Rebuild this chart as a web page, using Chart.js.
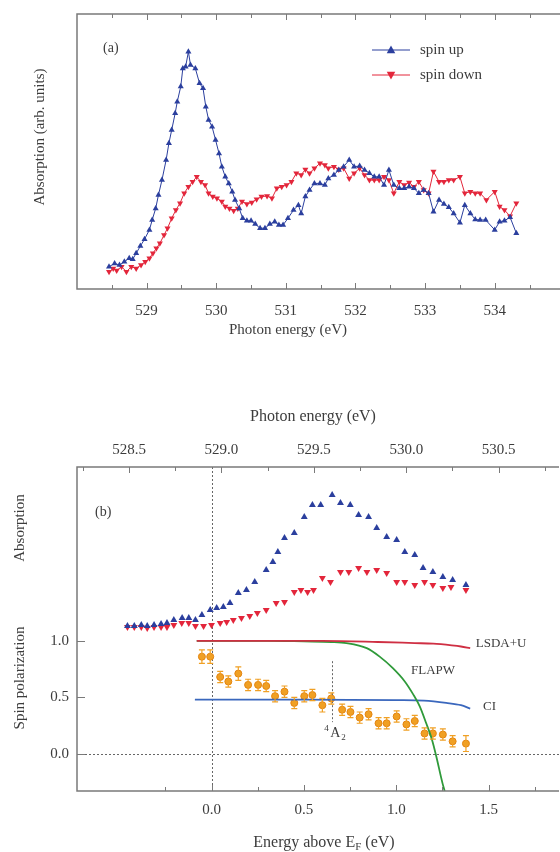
<!DOCTYPE html>
<html>
<head>
<meta charset="utf-8">
<script src="https://cdn.jsdelivr.net/npm/chart.js@4.4.0/dist/chart.umd.min.js"></script>
<style>
  html, body { margin: 0; padding: 0; background: #fff; overflow: hidden; }
  #wrap { position: relative; width: 560px; height: 852px; }
  canvas { position: absolute; left: 0; }
  #ca { top: 0; }
  #cb { top: 370px; }
</style>
</head>
<body>
<div id="wrap">
  <canvas id="ca" width="560" height="370"></canvas>
  <canvas id="cb" width="560" height="482"></canvas>
</div>
<script>
// ---- panel (a): absorption vs photon energy (arb. units) ----
const upE = [528.46,528.54,528.61,528.68,528.75,528.80,528.85,528.91,528.97,529.04,
  529.08,529.13,529.17,529.22,529.28,529.32,529.36,529.41,529.44,529.49,529.52,529.56,529.60,
  529.63,529.70,529.76,529.81,529.85,529.89,529.94,529.99,
  530.04,530.08,530.13,530.18,530.23,530.27,530.33,530.38,530.44,530.50,
  530.56,530.63,530.70,530.77,530.84,530.90,530.96,
  531.03,531.11,531.18,531.22,531.28,531.34,531.41,531.49,531.56,531.61,531.69,531.76,531.83,531.91,531.98,
  532.06,532.13,532.20,532.27,532.34,532.41,532.48,532.55,532.63,532.70,532.77,532.84,532.91,532.98,
  533.05,533.12,533.20,533.27,533.34,533.41,533.50,533.57,533.65,533.72,533.79,533.87,
  534.00,534.07,534.14,534.22,534.31];
const upAbs = [0.81,0.93,0.87,0.99,1.12,1.08,1.30,1.56,1.81,2.15,
  2.51,2.93,3.42,3.96,4.69,5.30,5.78,6.39,6.81,7.36,8.02,8.08,8.63,
  8.15,8.02,7.48,7.30,6.63,6.15,5.90,5.42,
  4.93,4.45,4.08,3.84,3.54,3.24,2.93,2.57,2.48,2.48,
  2.36,2.21,2.21,2.36,2.45,2.33,2.33,
  2.57,2.87,3.05,2.75,3.36,3.60,3.84,3.84,3.78,4.02,4.15,4.33,4.45,4.69,4.45,
  4.47,4.33,4.21,4.08,4.08,3.78,4.33,3.78,3.66,3.66,3.72,3.66,3.48,3.60,
  3.48,2.81,3.24,3.09,2.97,2.75,2.41,3.05,2.75,2.53,2.51,2.51,
  2.15,2.45,2.48,2.61,2.03];

const downE = [528.46,528.52,528.57,528.64,528.71,528.78,528.85,528.92,528.98,529.04,
  529.09,529.14,529.19,529.25,529.30,529.36,529.42,529.48,529.54,529.60,
  529.66,529.72,529.78,529.84,529.89,529.95,
  530.01,530.08,530.13,530.19,530.25,530.31,530.37,530.44,530.51,530.58,530.65,530.73,530.80,530.87,530.94,
  531.01,531.08,531.15,531.22,531.28,531.34,531.41,531.49,531.56,531.61,531.69,531.76,531.83,531.91,531.98,
  532.06,532.13,532.20,532.27,532.34,532.41,532.48,532.55,532.63,532.70,532.77,532.84,532.91,532.98,
  533.05,533.12,533.20,533.27,533.34,533.41,533.50,533.57,533.65,533.72,533.79,533.88,
  534.00,534.07,534.14,534.22,534.31];
const downAbs = [0.63,0.75,0.67,0.81,0.63,0.81,0.75,0.87,0.99,1.12,
  1.30,1.48,1.66,1.96,2.21,2.57,2.87,3.12,3.48,3.72,
  3.90,4.08,3.90,3.78,3.48,3.36,
  3.30,3.18,3.00,2.93,2.85,2.93,3.18,3.09,3.15,3.26,3.36,3.38,3.30,3.66,3.72,
  3.78,3.90,4.21,4.15,4.35,4.21,4.39,4.57,4.51,4.39,4.45,4.35,4.39,4.02,4.21,
  4.39,4.15,3.96,3.96,3.96,4.08,3.96,3.48,3.90,3.78,3.87,3.72,3.90,3.60,
  3.48,4.27,3.90,3.90,3.96,3.96,4.08,3.48,3.54,3.48,3.48,3.24,
  3.54,3.00,2.87,2.65,3.12];

// ---- panel (b): energy above E_F ----
const bUpE = [-0.455,-0.418,-0.380,-0.348,-0.311,-0.273,-0.241,-0.204,-0.159,-0.123,-0.087,-0.052,-0.007,
  0.028,0.064,0.100,0.145,0.189,0.234,0.296,0.332,0.359,0.395,
  0.448,0.502,0.546,0.591,0.653,0.698,0.751,0.796,0.850,0.894,0.948,1.002,1.046,1.100,1.145,1.198,1.252,1.305,1.377];
const bUpAbs = [16.5,16.5,16.6,16.5,16.6,16.7,16.8,17.1,17.3,17.3,17.1,17.6,18.1,
  18.3,18.4,18.8,19.8,20.1,20.9,22.1,22.9,23.9,25.3,
  25.8,27.4,28.6,28.6,29.6,28.8,28.6,27.6,27.4,26.3,25.4,25.1,23.9,23.6,22.3,21.9,21.4,21.1,20.6];
const bDownE = [-0.455,-0.418,-0.380,-0.348,-0.311,-0.273,-0.241,-0.204,-0.161,-0.123,-0.087,-0.043,0.0,
  0.047,0.082,0.118,0.162,0.207,0.248,0.296,0.350,0.395,
  0.448,0.484,0.520,0.552,0.600,0.644,0.698,0.743,0.796,0.841,0.894,0.948,1.002,1.046,1.100,1.153,1.198,1.252,1.296,1.377];
const bDownAbs = [16.4,16.4,16.4,16.3,16.4,16.4,16.4,16.6,16.8,16.8,16.5,16.5,16.6,
  16.8,16.9,17.1,17.3,17.5,17.8,18.1,18.8,18.9,
  19.9,20.1,19.9,20.1,21.3,20.9,21.9,21.9,22.3,21.9,22.1,21.8,20.9,20.9,20.6,20.9,20.6,20.3,20.4,20.1];

const polE = [-0.052,-0.007,0.047,0.091,0.145,0.198,0.252,0.296,0.344,0.395,
  0.448,0.502,0.546,0.600,0.648,0.707,0.752,0.802,0.850,0.904,
  0.948,1.002,1.055,1.100,1.153,1.198,1.252,1.305,1.377];
const polP = [0.86,0.86,0.68,0.64,0.71,0.61,0.61,0.60,0.51,0.55,
  0.45,0.51,0.52,0.43,0.49,0.39,0.37,0.32,0.35,0.27,
  0.27,0.33,0.26,0.29,0.18,0.18,0.17,0.11,0.09];
const polErr = [0.06,0.06,0.05,0.05,0.06,0.05,0.05,0.05,0.05,0.05,
  0.05,0.05,0.05,0.06,0.05,0.05,0.05,0.05,0.05,0.05,
  0.05,0.05,0.05,0.05,0.05,0.05,0.05,0.05,0.07];

const lsdaE = [-0.08,0.3,0.6,0.9,1.1,1.2,1.3,1.35,1.40];
const lsdaP = [1.0,1.0,1.0,0.99,0.98,0.975,0.96,0.95,0.935];
const flapwE = [-0.08,0.3,0.5,0.65,0.73,0.84,0.91,0.98,1.046,1.09,1.127,1.162,1.194,1.216,1.25,1.262];
const flapwP = [1.0,1.0,0.995,0.99,0.98,0.935,0.86,0.76,0.64,0.53,0.42,0.27,0.12,-0.02,-0.26,-0.33];
const ciE = [-0.09,0.5,1.0,1.15,1.27,1.35,1.40];
const ciP = [0.48,0.48,0.475,0.47,0.45,0.43,0.40];

const EF_OFFSET = 528.946; // photon energy at E = 0

const BLUE = '#2b3f9e';
const RED = '#e3263b';
const ORANGE = '#f0a024';
const FRAME = '#7a7a7a';
const TEXT = '#3c3c3c';
const serif = '"Liberation Serif", "DejaVu Serif", serif';

Chart.defaults.font.family = serif;
Chart.defaults.color = TEXT;

function pts(xs, ys) {
  return xs.map((x, i) => ({ x: x, y: ys[i] }));
}

function near(v, step) {
  return Math.abs(v / step - Math.round(v / step)) < 1e-6;
}

// keep the plot area flush with the canvas edges
function fixX(h) {
  return s => { s.height = h; s.paddingLeft = 0; s.paddingRight = 0; };
}

function put(ctx, s, x, y, size, align, rot) {
  ctx.save();
  ctx.font = size + 'px ' + serif;
  ctx.fillStyle = TEXT;
  ctx.textAlign = align || 'left';
  ctx.textBaseline = 'middle';
  ctx.translate(x, y);
  if (rot) ctx.rotate(rot);
  ctx.fillText(s, 0, 0);
  ctx.restore();
}

function tri(ctx, x, y, r, down, color) {
  ctx.save();
  ctx.fillStyle = color;
  ctx.beginPath();
  const s = down ? -1 : 1;
  ctx.moveTo(x, y - s * r);
  ctx.lineTo(x - r * 0.95, y + s * r * 0.7);
  ctx.lineTo(x + r * 0.95, y + s * r * 0.7);
  ctx.closePath();
  ctx.fill();
  ctx.restore();
}

function frame(ctx, a) {
  ctx.save();
  ctx.strokeStyle = FRAME;
  ctx.lineWidth = 1.5;
  ctx.beginPath();
  ctx.moveTo(a.right + 4, a.top);
  ctx.lineTo(a.left, a.top);
  ctx.lineTo(a.left, a.bottom);
  ctx.lineTo(a.right + 4, a.bottom);
  ctx.stroke();
  ctx.restore();
}

// ---- panel (a) decorations ----
const decorA = {
  id: 'decorA',
  afterDraw(chart) {
    const ctx = chart.ctx, a = chart.chartArea, x = chart.scales.x;
    frame(ctx, a);
    ctx.save();
    ctx.strokeStyle = FRAME;
    ctx.lineWidth = 1;
    ctx.beginPath();
    for (let v = 528.5; v < x.max; v += 0.5) {
      const px = Math.round(x.getPixelForValue(v)) + 0.5;
      const len = near(v, 1) ? 6 : 4;
      ctx.moveTo(px, a.top); ctx.lineTo(px, a.top + len);
      ctx.moveTo(px, a.bottom); ctx.lineTo(px, a.bottom - len);
    }
    ctx.stroke();
    ctx.restore();

    put(ctx, '(a)', 103, 48, 14, 'left');
    // legend
    [['spin up', BLUE, false, 50], ['spin down', RED, true, 75]].forEach(([lab, col, down, y]) => {
      ctx.save();
      ctx.strokeStyle = col; ctx.lineWidth = 1;
      ctx.beginPath(); ctx.moveTo(372, y); ctx.lineTo(410, y); ctx.stroke();
      ctx.restore();
      tri(ctx, 391, y, 4.5, down, col);
      put(ctx, lab, 420, y, 15, 'left');
    });
    put(ctx, 'Absorption (arb. units)', 40, 137, 15, 'center', -Math.PI / 2);
    put(ctx, 'Photon energy (eV)', 288, 330, 15, 'center');
  }
};

new Chart(document.getElementById('ca'), {
  type: 'line',
  data: {
    datasets: [
      {
        label: 'spin up',
        data: pts(upE, upAbs),
        borderColor: BLUE, backgroundColor: BLUE,
        borderWidth: 1, pointStyle: 'triangle', pointRadius: 3.5, pointBorderWidth: 0
      },
      {
        label: 'spin down',
        data: pts(downE, downAbs),
        borderColor: RED, backgroundColor: RED,
        borderWidth: 1, pointStyle: 'triangle', pointRotation: 180, pointRadius: 3.5, pointBorderWidth: 0
      }
    ]
  },
  options: {
    responsive: false,
    animation: false,
    devicePixelRatio: 1,
    layout: { padding: { top: 14, left: 77, right: 0, bottom: 0 } },
    plugins: { legend: { display: false }, tooltip: { enabled: false } },
    scales: {
      x: {
        type: 'linear', min: 528, max: 534.88,
        afterFit: fixX(81),
        grid: { display: false, drawTicks: false },
        border: { display: false },
        ticks: {
          stepSize: 1, padding: 13, color: TEXT, font: { size: 15 },
          autoSkip: false, maxRotation: 0, includeBounds: false,
          callback: v => (near(v, 1) && v > 528.5) ? String(Math.round(v)) : ''
        }
      },
      y: { display: false, min: 0, max: 10 }
    }
  },
  plugins: [decorA]
});

// ---- panel (b) decorations ----
const decorB = {
  id: 'decorB',
  afterDatasetsDraw(chart) {
    const ctx = chart.ctx, xs = chart.scales.x, ys = chart.scales.y;
    ctx.save();
    ctx.strokeStyle = ORANGE;
    ctx.lineWidth = 1.2;
    ctx.beginPath();
    polE.forEach((e, i) => {
      const px = xs.getPixelForValue(e);
      const y1 = ys.getPixelForValue(polP[i] - polErr[i]);
      const y2 = ys.getPixelForValue(polP[i] + polErr[i]);
      ctx.moveTo(px, y1); ctx.lineTo(px, y2);
      ctx.moveTo(px - 3, y1); ctx.lineTo(px + 3, y1);
      ctx.moveTo(px - 3, y2); ctx.lineTo(px + 3, y2);
    });
    ctx.stroke();
    ctx.restore();
  },
  beforeDatasetsDraw(chart) {
    const ctx = chart.ctx, a = chart.chartArea, xs = chart.scales.x, ys = chart.scales.y;
    ctx.save();
    ctx.strokeStyle = '#666';
    ctx.lineWidth = 1;
    ctx.setLineDash([2, 2]);
    ctx.beginPath();
    const x0 = Math.round(xs.getPixelForValue(0)) + 0.5;
    ctx.moveTo(x0, a.top); ctx.lineTo(x0, a.bottom);
    const y0 = Math.round(ys.getPixelForValue(0)) + 0.5;
    ctx.moveTo(a.left, y0); ctx.lineTo(a.right + 4, y0);
    const xa = Math.round(xs.getPixelForValue(0.65)) + 0.5;
    ctx.moveTo(xa, ys.getPixelForValue(0.82)); ctx.lineTo(xa, ys.getPixelForValue(0.28));
    ctx.stroke();
    ctx.restore();
  },
  afterDraw(chart) {
    const ctx = chart.ctx, a = chart.chartArea;
    const xs = chart.scales.x, xt = chart.scales.xTop, ys = chart.scales.y;
    frame(ctx, a);
    ctx.save();
    ctx.strokeStyle = FRAME;
    ctx.lineWidth = 1;
    ctx.beginPath();
    for (let v = 528.25; v < xt.max; v += 0.25) {
      const px = Math.round(xt.getPixelForValue(v)) + 0.5;
      const len = near(v, 0.5) ? 6 : 4;
      ctx.moveTo(px, a.top); ctx.lineTo(px, a.top + len);
    }
    for (let v = -0.25; v < xs.max; v += 0.25) {
      const px = Math.round(xs.getPixelForValue(v)) + 0.5;
      const len = near(v, 0.5) ? 6 : 4;
      ctx.moveTo(px, a.bottom); ctx.lineTo(px, a.bottom - len);
    }
    [0, 0.5, 1].forEach(v => {
      const py = Math.round(ys.getPixelForValue(v)) + 0.5;
      ctx.moveTo(a.left, py); ctx.lineTo(a.left + 8, py);
    });
    ctx.stroke();
    ctx.restore();

    put(ctx, '(b)', 95, 142, 14, 'left');
    put(ctx, 'Photon energy (eV)', 313, 47, 16, 'center');
    put(ctx, 'Absorption', 20, 158, 15, 'center', -Math.PI / 2);
    put(ctx, 'Spin polarization', 20, 308, 15, 'center', -Math.PI / 2);

    // bottom title with subscript F
    ctx.save();
    ctx.font = '16px ' + serif;
    const p1 = 'Energy above E', p3 = ' (eV)';
    const w1 = ctx.measureText(p1).width, w3 = ctx.measureText(p3).width;
    ctx.font = '11px ' + serif;
    const w2 = ctx.measureText('F').width;
    const sx = 324 - (w1 + w2 + w3) / 2;
    ctx.restore();
    put(ctx, p1, sx, 473, 16, 'left');
    put(ctx, 'F', sx + w1, 477, 11, 'left');
    put(ctx, p3, sx + w1 + w2, 473, 16, 'left');

    // curve labels
    put(ctx, 'LSDA+U', xs.getPixelForValue(1.43), ys.getPixelForValue(0.98), 13, 'left');
    put(ctx, 'FLAPW', xs.getPixelForValue(1.08), ys.getPixelForValue(0.74), 13, 'left');
    put(ctx, 'CI', xs.getPixelForValue(1.47), ys.getPixelForValue(0.42), 13, 'left');
    const ax = xs.getPixelForValue(0.61), ay = ys.getPixelForValue(0.18);
    put(ctx, '4', ax, ay - 5, 9, 'left');
    put(ctx, 'A', ax + 6, ay, 14, 'left');
    put(ctx, '2', ax + 17, ay + 4, 9, 'left');
  }
};

const lineStyle = (color) => ({
  borderColor: color, backgroundColor: color, borderWidth: 1.8,
  pointRadius: 0, showLine: true, cubicInterpolationMode: 'monotone', yAxisID: 'y'
});

new Chart(document.getElementById('cb'), {
  type: 'line',
  data: {
    datasets: [
      Object.assign({ label: 'LSDA+U', data: pts(lsdaE, lsdaP) }, lineStyle('#cf2f43')),
      Object.assign({ label: 'FLAPW', data: pts(flapwE, flapwP) }, lineStyle('#2f9a3a')),
      Object.assign({ label: 'CI', data: pts(ciE, ciP) }, lineStyle('#3a67bd')),
      {
        label: 'spin up abs', data: pts(bUpE, bUpAbs), yAxisID: 'yAbs', showLine: false,
        backgroundColor: BLUE, borderColor: BLUE, pointStyle: 'triangle', pointRadius: 4, pointBorderWidth: 0
      },
      {
        label: 'spin down abs', data: pts(bDownE, bDownAbs), yAxisID: 'yAbs', showLine: false,
        backgroundColor: RED, borderColor: RED, pointStyle: 'triangle', pointRotation: 180, pointRadius: 4, pointBorderWidth: 0
      },
      {
        label: 'spin polarization', data: pts(polE, polP), yAxisID: 'y', showLine: false,
        backgroundColor: ORANGE, borderColor: '#e38410', pointStyle: 'circle', pointRadius: 3.5, pointBorderWidth: 1
      }
    ]
  },
  options: {
    responsive: false,
    animation: false,
    devicePixelRatio: 1,
    clip: 0,
    layout: { padding: 0 },
    plugins: { legend: { display: false }, tooltip: { enabled: false } },
    scales: {
      x: {
        type: 'linear', position: 'bottom', min: -0.728, max: 1.859,
        afterFit: fixX(61),
        grid: { display: false, drawTicks: false },
        border: { display: false },
        ticks: {
          stepSize: 0.5, padding: 10, color: TEXT, font: { size: 15 },
          autoSkip: false, maxRotation: 0, includeBounds: false,
          callback: v => (near(v, 0.5) && v > -1e-6) ? v.toFixed(1) : ''
        }
      },
      xTop: {
        type: 'linear', position: 'top', min: EF_OFFSET - 0.728, max: EF_OFFSET + 1.859,
        afterFit: fixX(97),
        grid: { display: false, drawTicks: false },
        border: { display: false },
        ticks: {
          stepSize: 0.5, padding: 8, color: TEXT, font: { size: 15 },
          autoSkip: false, maxRotation: 0, includeBounds: false,
          callback: v => near(v, 0.5) ? v.toFixed(1) : ''
        }
      },
      y: {
        type: 'linear', position: 'left', min: -0.33, max: 2.54,
        afterFit: s => { s.width = 77; },
        afterBuildTicks: s => { s.ticks = [0, 0.5, 1].map(v => ({ value: v })); },
        grid: { display: false, drawTicks: false },
        border: { display: false },
        ticks: { padding: 8, color: TEXT, font: { size: 15 }, callback: v => v.toFixed(1) }
      },
      yAbs: { type: 'linear', display: false, min: 0, max: 32.4 }
    }
  },
  plugins: [decorB]
});
</script>
</body>
</html>
